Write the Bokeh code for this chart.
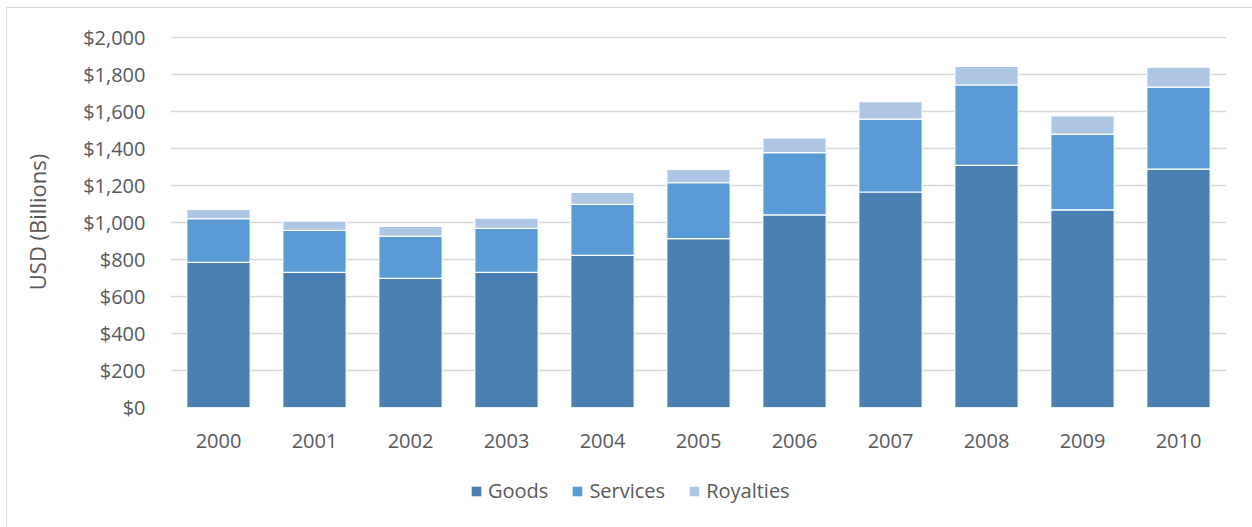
from bokeh.plotting import figure
from bokeh.layouts import column
from bokeh.models import ColumnDataSource, Legend, LegendItem, NumeralTickFormatter, FixedTicker, Range1d
from bokeh.embed import file_html
from bokeh.resources import INLINE

years = ["2000", "2001", "2002", "2003", "2004", "2005", "2006", "2007", "2008", "2009", "2010"]
goods = [784, 730, 697, 730, 822, 912, 1040, 1164, 1308, 1068, 1288]
services = [236, 227, 229, 238, 275, 302, 337, 394, 434, 409, 443]
royalties = [50, 50, 52, 55, 65, 72, 79, 94, 101, 98, 107]
series = ["Goods", "Services", "Royalties"]
colors = ["#4a7eb0", "#5b9bd5", "#adc6e6"]
yticks = [0, 200, 400, 600, 800, 1000, 1200, 1400, 1600, 1800, 2000]

src = ColumnDataSource(dict(year=years, Goods=goods, Services=services, Royalties=royalties))

FONT = "Open Sans"
TXT = "#595959"

p = figure(x_range=years, y_range=Range1d(0, 2004), width=1250, height=460,
           output_backend="svg", toolbar_location=None,
           min_border_left=163, min_border_right=31, min_border_top=28, min_border_bottom=61)

r = p.vbar_stack(series, x="year", width=0.66, source=src, color=colors,
                 line_color="white", line_width=1.2)

p.outline_line_color = None
p.xgrid.grid_line_color = None
p.ygrid.grid_line_color = "#d9d9d9"
p.ygrid.grid_line_width = 1.5
p.yaxis.ticker = FixedTicker(ticks=yticks)
p.yaxis.formatter = NumeralTickFormatter(format="$0,0")
for ax in (p.xaxis[0], p.yaxis[0]):
    ax.axis_line_color = None
    ax.major_tick_line_color = None
    ax.minor_tick_line_color = None
    ax.major_label_text_font = FONT
    ax.major_label_text_font_size = "20px"
    ax.major_label_text_color = TXT
p.yaxis.major_label_standoff = 19
p.xaxis.major_label_standoff = 20
p.yaxis.axis_label = "USD (Billions)"
p.yaxis.axis_label_text_font = FONT
p.yaxis.axis_label_text_font_style = "normal"
p.yaxis.axis_label_text_font_size = "22px"
p.yaxis.axis_label_text_color = TXT
p.yaxis.axis_label_standoff = 28

# legend lives in a small companion figure below the chart (same stacked data,
# lying entirely below that figure's visible y-range so only the legend shows)
lf = figure(width=1250, height=59, x_range=p.x_range, y_range=Range1d(50000, 60000),
            output_backend="svg", toolbar_location=None,
            x_axis_type=None, y_axis_type=None, min_border=0)
lf.outline_line_color = None
lf.grid.grid_line_color = None
lr = lf.vbar_stack(series, x="year", width=0.66, source=src, color=colors, line_color=None)
legend = Legend(items=[LegendItem(label=s, renderers=[lr[i]]) for i, s in enumerate(series)],
                orientation="horizontal", location=(300, 23),
                label_text_font=FONT, label_text_font_size="20px",
                label_text_color=TXT, glyph_width=12, glyph_height=12,
                spacing=23, label_standoff=6, border_line_color=None,
                background_fill_alpha=0, margin=0, padding=0)
lf.add_layout(legend, "center")

layout = column(p, lf, spacing=0)
layout.margin = (7, 0, 0, 6)
layout.styles = {"border": "1px solid #d9d9d9"}

open("out.html", "w").write(file_html(layout, INLINE))
